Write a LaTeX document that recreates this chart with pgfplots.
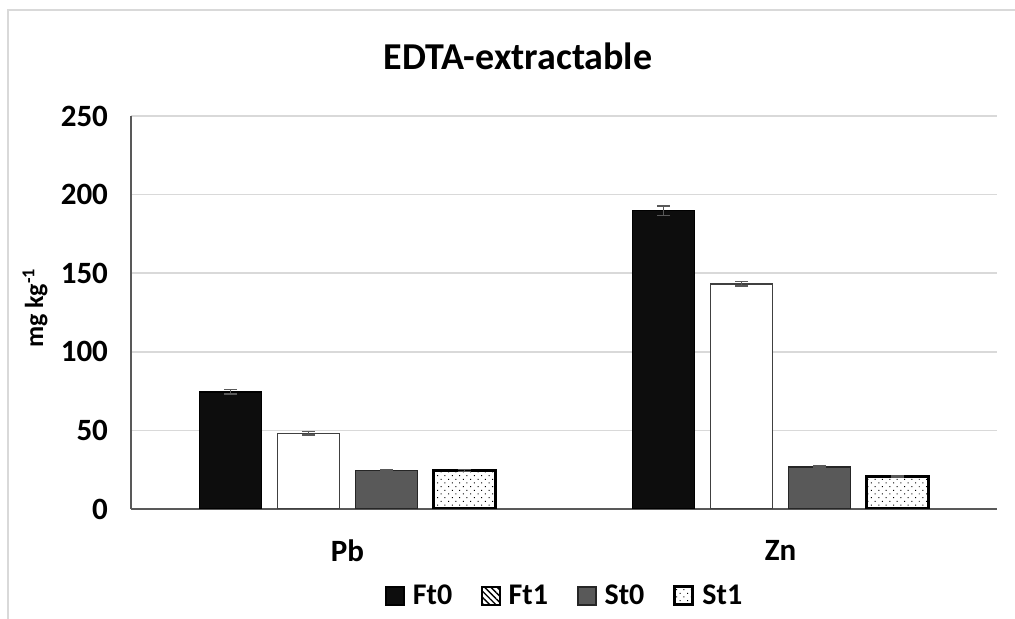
\documentclass[border=0pt]{standalone}
\usepackage{pgfplots}
\pgfplotsset{compat=1.18}
\usepackage{fontspec}
\setmainfont{Carlito}
\usetikzlibrary{patterns.meta}
\definecolor{ftzero}{HTML}{0D0D0D}
\definecolor{stzero}{HTML}{595959}
\definecolor{gridgray}{HTML}{D9D9D9}
\definecolor{axisgray}{HTML}{595959}
\definecolor{framegray}{HTML}{D9D9D9}
\definecolor{ftoneedge}{HTML}{404040}

\begin{document}
\begin{tikzpicture}
\useasboundingbox (0pt,0pt) rectangle (507.5pt,309.5pt);
% outer chart frame
\draw[framegray, line width=1pt] (4pt,0pt) -- (4pt,304.5pt) -- (507.5pt,304.5pt);
% title and y label
\node[font=\bfseries\fontsize{19}{22}\selectfont] at (259pt,281.5pt) {EDTA-extractable};
\node[font=\bfseries\fontsize{13}{15}\selectfont, rotate=90] at (17.5pt,155.5pt) {mg kg\textsuperscript{-1}};
\begin{axis}[
  at={(65.5pt,55pt)}, anchor=south west,
  scale only axis, width=433pt, height=196.5pt,
  ybar=8pt, bar width=31pt,
  xmin=-0.5, xmax=1.5, ymin=0, ymax=250,
  xtick={0,1}, xticklabels={Pb,Zn},
  ytick={0,50,...,250},
  ymajorgrids, grid style={gridgray, line width=0.8pt},
  axis lines*=left,
  axis line style={axisgray, line width=0.8pt},
  major tick length=0pt,
  /pgf/number format/assume math mode=true,
  ticklabel style={font=\bfseries\fontsize{15.5}{18}\selectfont},
  yticklabel style={xshift=-8pt},
  xticklabel style={yshift=-12pt},
  legend columns=4,
  legend style={at={(0.502,-0.221)}, anchor=center, draw=none,
    font=\bfseries\fontsize{15}{18}\selectfont,
    /tikz/every odd column/.append style={column sep=2pt},
    /tikz/every even column/.append style={column sep=12.5pt}},
  legend image code/.code={\draw[#1] (0pt,-4.5pt) rectangle (9pt,4.5pt);},
  every axis plot/.append style={
    error bars/y dir=both, error bars/y explicit,
    error bars/error bar style={axisgray, line width=0.8pt},
    error bars/error mark options={rotate=90, mark size=3.25pt, axisgray, line width=0.8pt}},
]
\addplot[fill=ftzero, draw=black, line width=0.8pt]
  coordinates {(0,74.6) +- (0,1.5) (1,189.8) +- (0,3.0)};
\addlegendentry{Ft0}
\addplot[fill=white, draw=ftoneedge, line width=0.8pt,
  legend image code/.code={\draw[draw=black, line width=0.8pt,
    pattern={Lines[angle=-45, distance=2.2pt, line width=0.7pt]}]
    (0pt,-4.5pt) rectangle (9pt,4.5pt);}]
  coordinates {(0,48.1) +- (0,1.2) (1,143.2) +- (0,1.4)};
\addlegendentry{Ft1}
\addplot[fill=stzero, draw=black!85, line width=0.8pt]
  coordinates {(0,24.6) +- (0,0.6) (1,26.9) +- (0,0.4)};
\addlegendentry{St0}
\addplot[fill=white, postaction={pattern={Dots[distance=2.6pt, radius=0.35pt, angle=45]}},
  draw=black, line width=1.5pt]
  coordinates {(0,24.5) +- (0,0.7) (1,20.8) +- (0,0.6)};
\addlegendentry{St1}
\end{axis}
\end{tikzpicture}
\end{document}
